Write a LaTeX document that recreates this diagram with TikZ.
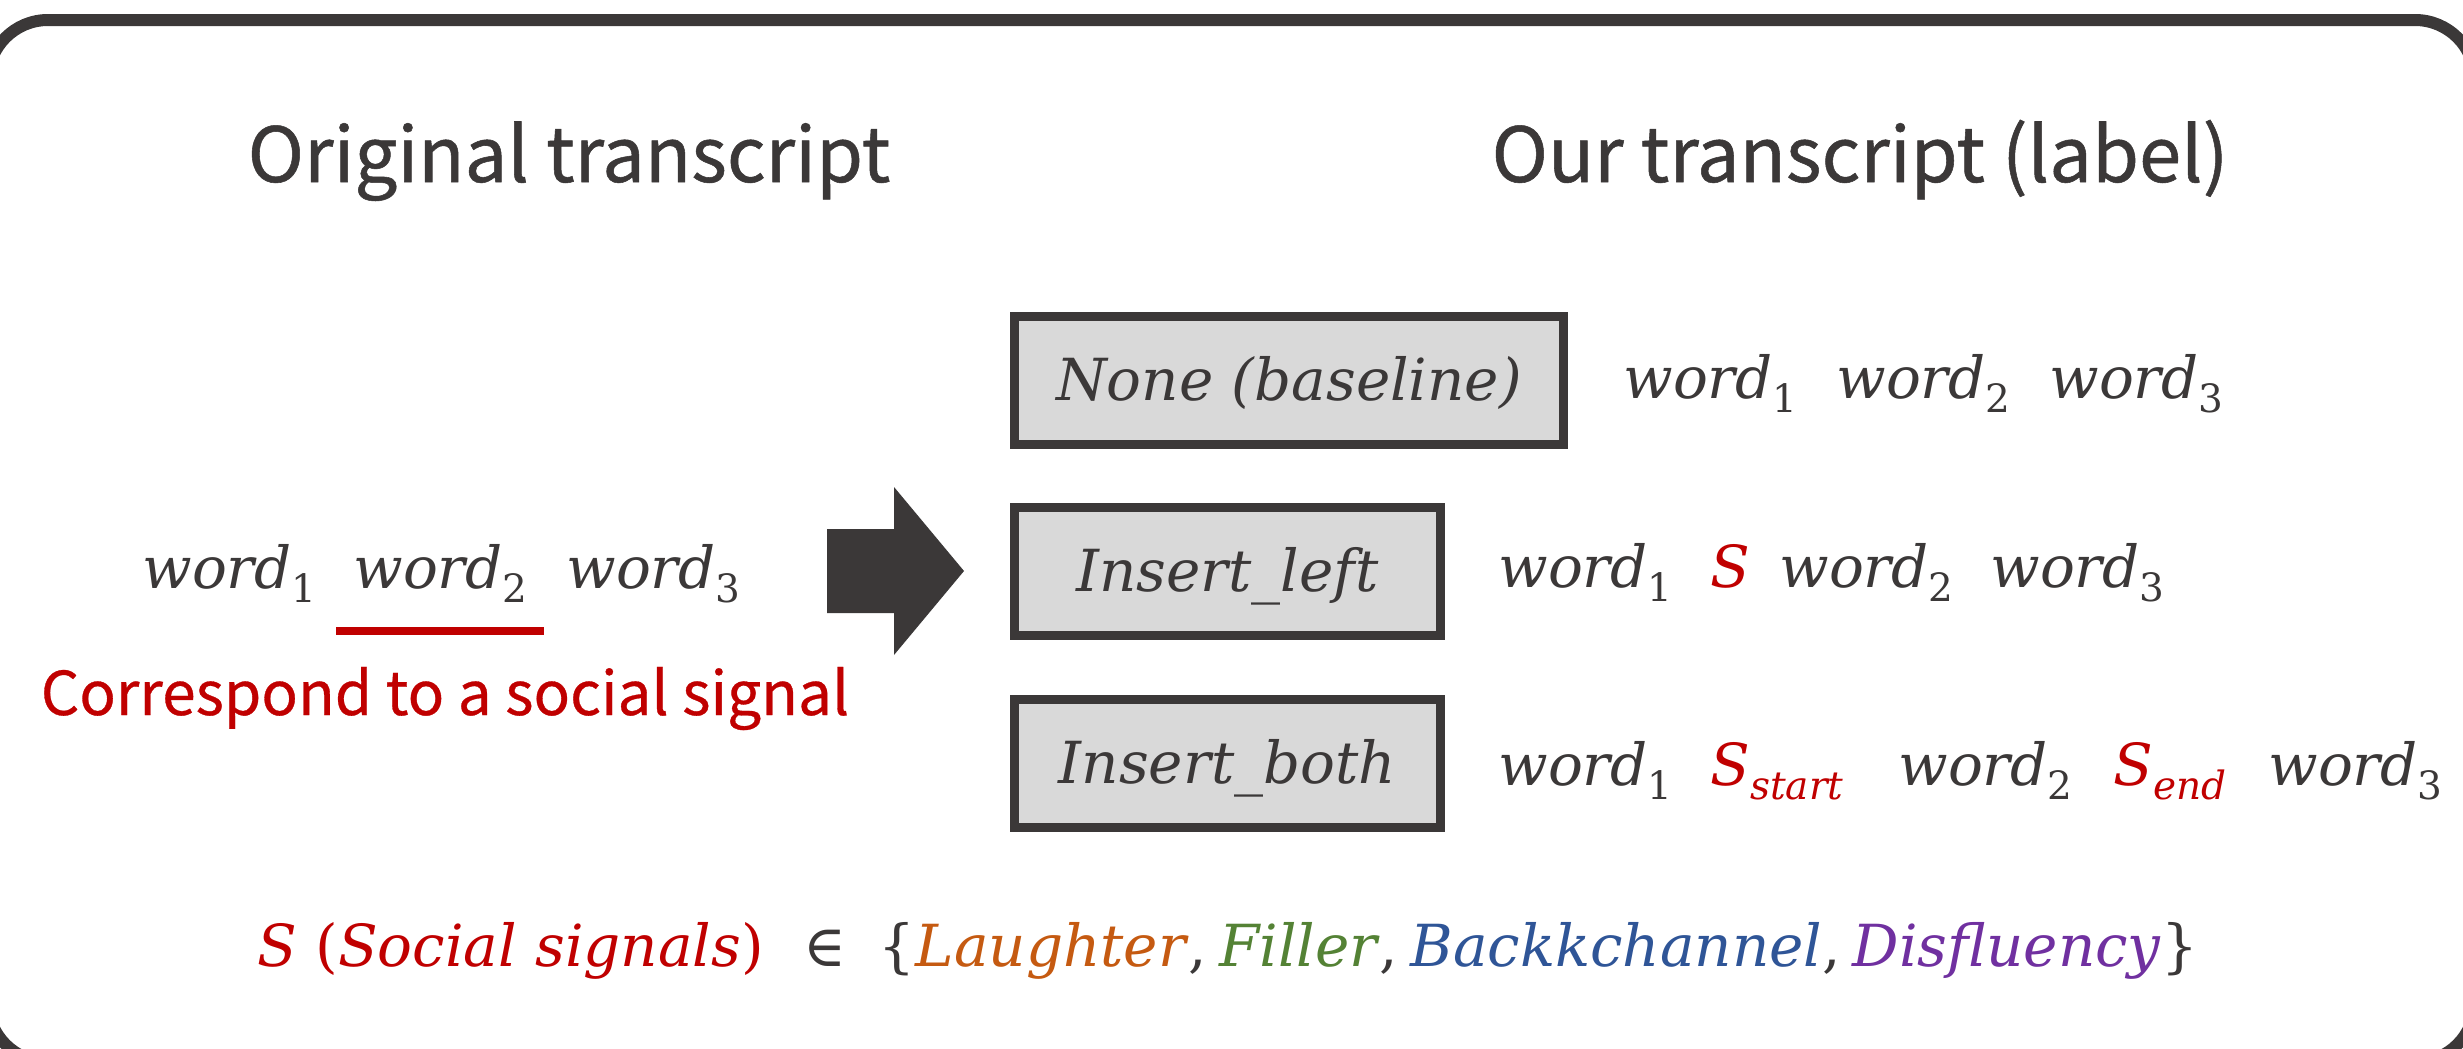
\documentclass[tikz,border=0pt]{standalone}
\usepackage{fontspec}
\usepackage{graphicx}
\setmainfont{DejaVu Serif}
\newfontfamily\headfont[FakeBold=0.7]{Noto Sans CJK JP}
\newfontfamily\notefont[FakeBold=0.5]{Noto Sans CJK JP}

\definecolor{ink}{HTML}{3B3838}
\definecolor{sigred}{HTML}{C00000}
\definecolor{boxgray}{HTML}{D9D9D9}
\definecolor{cLaugh}{HTML}{C55A11}
\definecolor{cFill}{HTML}{548235}
\definecolor{cBack}{HTML}{2F5597}
\definecolor{cDisf}{HTML}{7030A0}

% lowered subscript, set smaller
\newcommand\lowsub[1]{\raisebox{-7pt}{\fontsize{19.5pt}{20pt}\selectfont #1}}
\newcommand\wrd[1]{\textit{word}\lowsub{\upshape #1}}
\newcommand\sig[1]{{\color{sigred}\textit{S}\lowsub{\itshape #1}}}

\tikzset{
  frame/.style={draw=ink, line width=6pt, rounded corners=30pt},
  head/.style={font=\headfont\fontsize{38pt}{40pt}\selectfont, text=ink, inner sep=0pt, anchor=base},
  note/.style={font=\notefont\fontsize{30.2pt}{34pt}\selectfont, text=sigred, inner sep=0pt, anchor=base},
  tok/.style={font=\fontsize{29pt}{34pt}\selectfont, text=ink, inner sep=0pt, anchor=base west},
  modebox/.style={draw=ink, fill=boxgray, line width=4.5pt, minimum height=64pt,
    inner sep=0pt, text height=24pt, text depth=4pt,
    font=\fontsize{29pt}{34pt}\selectfont\itshape, text=ink},
  sigline/.style={draw=sigred, line width=4pt},
  bigarrow/.style={fill=ink}
}

\begin{document}
\begin{tikzpicture}[x=0.5pt, y=-0.5pt]
\useasboundingbox (0,0) rectangle (2463,1049);

% outer frame
\draw[frame] (-12,20) rectangle (2475,1062);

% column titles
\node[head] (orig) at (569,182) {Original transcript};
\node[head] (ours) at (1860,182) {Our transcript (label)};

% original word sequence
\node[tok] (l1) at (142,588) {\wrd{1}};
\node[tok] (l2) at (353,588) {\wrd{2}};
\node[tok] (l3) at (566,588) {\wrd{3}};
\draw[sigline] (336,631) -- (544,631);
\node[note] (cor) at (445,715) {Correspond to a social signal};

% transformation arrow
\fill[bigarrow] (827,529) -- (894,529) -- (894,487) -- (964,571)
  -- (894,655) -- (894,613) -- (827,613) -- cycle;

% labelling schemes
\node[modebox, minimum width=274.5pt] (none) at (1289,380) {None (baseline)};
\node[modebox, minimum width=213pt] (left) at (1227.5,571) {Insert\_left};
\node[modebox, minimum width=213pt] (both) at (1227.5,763.5) {Insert\_both};

% resulting transcripts
\node[tok] (a1) at (1623,398) {\wrd{1}};
\node[tok] (a2) at (1836,398) {\wrd{2}};
\node[tok] (a3) at (2049,398) {\wrd{3}};

\node[tok] (b1) at (1498,587) {\wrd{1}};
\node[tok] (bS) at (1710,587) {\sig{}};
\node[tok] (b2) at (1779,587) {\wrd{2}};
\node[tok] (b3) at (1990,587) {\wrd{3}};

\node[tok] (c1) at (1498,785) {\wrd{1}};
\node[tok] (cS) at (1710,785) {\sig{start}};
\node[tok] (c2) at (1898,785) {\wrd{2}};
\node[tok] (cE) at (2113,785) {\sig{end}};
\node[tok] (c3) at (2268,785) {\wrd{3}};

% set of social signals
\node[tok] (set) at (257,966) {{\color{sigred}\textit{S} (\textit{Social signals})}\hspace{20pt}∈\hspace{16pt}\{{\color{cLaugh}\textit{Laughter}},\hspace{6pt}{\color{cFill}\textit{Filler}},\hspace{6pt}{\color{cBack}\textit{Backkchannel}},\hspace{6pt}{\color{cDisf}\textit{Disfluency}}\}};
\end{tikzpicture}
\end{document}
